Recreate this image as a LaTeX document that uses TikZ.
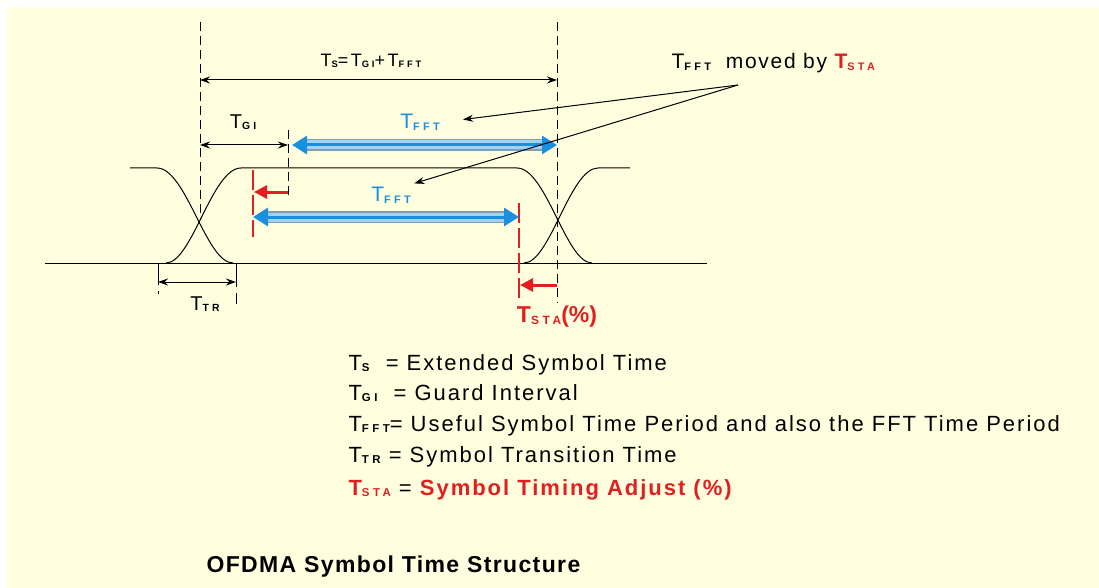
\documentclass[tikz,border=0pt]{standalone}
\usepackage{fontspec}
\setmainfont{Liberation Sans}
\usetikzlibrary{arrows.meta}

\definecolor{paper}{HTML}{FFFFE0}
\definecolor{fftblue}{HTML}{1A8FE0}
\definecolor{barblue}{HTML}{9FD3F5}
\definecolor{bargrey}{HTML}{8C9AA8}
\definecolor{stared}{HTML}{E02020}

% small bold subscript after a T
\newcommand{\sbs}[1]{\raisebox{-0.08em}{\scalebox{0.52}{\bfseries\addfontfeature{LetterSpace=30}#1}}}

\begin{document}
\begin{tikzpicture}[x=1pt,y=-1pt,
    dim/.style={{Stealth[length=10pt,width=7pt]}-{Stealth[length=10pt,width=7pt]},line width=1pt},
    guide/.style={dashed,dash pattern=on 9pt off 5pt,line width=1pt},
    redguide/.style={stared,dash pattern=on 20pt off 5pt,line width=1.2pt},
    staarrow/.style={-{Triangle[length=13pt,width=13pt]},stared,line width=3pt},
    fftarrow/.style={{Triangle[length=15pt,width=18pt]}-{Triangle[length=15pt,width=18pt]},
        fftblue,line width=3pt,
        preaction={draw=bargrey,line width=12pt,shorten <=13pt,shorten >=13pt,arrows=-},
        preaction={draw=barblue,line width=9pt,shorten <=13pt,shorten >=13pt,arrows=-}},
    lbl/.style={font=\fontsize{20}{22}\selectfont\addfontfeature{LetterSpace=12}},
    bluelbl/.style={fftblue,font=\fontsize{21}{23}\selectfont},
    legend/.style={anchor=base west,font=\fontsize{22}{24}\selectfont\addfontfeature{LetterSpace=9}}]
\useasboundingbox (0,0) rectangle (1099,588);
\fill[paper] (7,7) rectangle (1099,588);

% signal levels and transitions
\draw[line width=1pt] (45,263) -- (707,263);
\draw[line width=1pt] (130,168) -- (157,168) .. controls (186,168) and (206,263) .. (233,263);
\draw[line width=1pt] (166,263) .. controls (192,263) and (212,168) .. (241,168)
    -- (517,168) .. controls (546,168) and (566,263) .. (592,263);
\draw[line width=1pt] (524,263) .. controls (550,263) and (570,168) .. (598,168) -- (630,168);

% guides
\coordinate (sL) at (200,80);
\coordinate (sR) at (557,80);
\coordinate (gL) at (200,145);
\coordinate (gR) at (288,145);
\draw[guide] (200,22) -- (200,220);
\draw[guide] (557,22) -- (557,303);
\draw[guide] (288,130) -- (288,197);
\draw[redguide] (253,170) -- (253,237);
\draw[redguide] (519,203) -- (519,300);
\draw[line width=1pt,dash pattern=on 22pt off 6pt] (158,263) -- (158,294);
\draw[line width=1pt,dash pattern=on 24pt off 6pt] (236,263) -- (236,304);

% dimensions
\draw[dim] (sL) -- (sR);
\draw[dim] (gL) -- (gR);
\coordinate (tL) at (158,282);
\coordinate (tR) at (236,282);
\draw[dim] (tL) -- (tR);

% FFT windows
\coordinate (fa) at (292,145);
\coordinate (fb) at (557,145);
\coordinate (fc) at (253,217);
\coordinate (fd) at (519,217);
\draw[fftarrow] (fa) -- (fb);
\draw[fftarrow] (fc) -- (fd);

% timing adjust shifts
\coordinate (ra) at (288,192);
\coordinate (rb) at (254,192);
\coordinate (rc) at (557,285);
\coordinate (rd) at (520,285);
\draw[staarrow] (ra) -- (rb);
\draw[staarrow] (rc) -- (rd);

% labels
\node[lbl,font=\fontsize{18}{20}\selectfont\addfontfeature{LetterSpace=14}] (ts) at (371,61) {T\sbs{S}=T\sbs{GI}+T\sbs{FFT}};
\node[lbl] (tgi) at (243,122) {T\sbs{GI}};
\node[bluelbl] (fftup) at (420,122) {T\sbs{FFT}};
\node[bluelbl] (fftlo) at (391,195) {T\sbs{FFT}};
\node[lbl] (ttr) at (205,304) {T\sbs{TR}};
\node[lbl,stared,font=\fontsize{23}{25}\selectfont\bfseries] (tsta) at (557,317) {T\sbs{STA}(\%)};
\node[legend,anchor=west,font=\fontsize{21}{23}\selectfont\addfontfeature{LetterSpace=8}] (moved) at (668,63) {T\sbs{FFT}\ \ moved by {\color{stared}\bfseries T\sbs{STA}}};

% pointers from the note
\coordinate (mv) at (738,85);
\draw[line width=1pt,-{Stealth[length=10pt,width=7pt]},shorten >=20pt] (mv) -- (fftup.east);
\draw[line width=1pt,-{Stealth[length=10pt,width=7pt]}] (mv) -- (fftlo.north east);

% legend
\node[legend] (l1) at (345,370) {T\sbs{S}\ \ = Extended Symbol Time};
\node[legend] (l2) at (345,400) {T\sbs{GI}\ \ = Guard Interval};
\node[legend] (l3) at (345,431) {T\sbs{FFT}= Useful Symbol Time Period and also the FFT Time Period};
\node[legend] (l4) at (345,462) {T\sbs{TR} = Symbol Transition Time};
\node[legend,stared] (l5) at (345,495) {\bfseries T\sbs{STA} {\color{black}\mdseries =} Symbol Timing Adjust (\%)};

\node[anchor=base west,font=\fontsize{23}{25}\selectfont\bfseries\addfontfeature{LetterSpace=6}] (title) at (203,572) {OFDMA Symbol Time Structure};
\end{tikzpicture}
\end{document}
